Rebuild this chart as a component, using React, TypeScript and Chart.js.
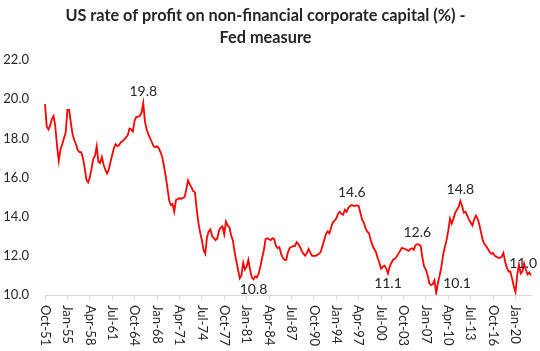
import React, { useEffect, useRef } from "react";
import { Chart, registerables } from "chart.js";

Chart.register(...registerables);

// Quarterly rate of profit (%), starting Oct-51
const RATE: number[] = [
  19.75, 18.6, 18.45, 18.65, 19.0, 19.15, 18.6, 17.6, 16.85, 17.45,
  17.7, 18.0, 18.3, 19.45, 19.45, 18.8, 18.2, 17.9, 17.7, 17.4,
  17.3, 17.3, 17.0, 16.5, 15.9, 15.75, 16.0, 16.45, 16.95, 17.1,
  17.6, 16.8, 16.75, 17.05, 16.65, 16.4, 16.2, 16.4, 16.8, 17.15,
  17.5, 17.7, 17.6, 17.65, 17.8, 17.85, 17.95, 18.05, 18.15, 18.5,
  18.45, 18.35, 18.9, 19.1, 19.1, 19.15, 19.3, 19.8, 18.85, 18.45,
  18.2, 18.0, 17.8, 17.6, 17.55, 17.6, 17.5, 17.3, 17.05, 16.6,
  16.1, 15.5, 14.85, 14.6, 14.65, 14.25, 14.85, 14.9, 14.95, 14.9,
  14.95, 15.0, 15.4, 15.85, 15.65, 15.5, 15.3, 15.25, 14.4, 13.7,
  13.2, 12.8, 12.3, 12.1, 12.95, 13.25, 13.35, 13.0, 12.9, 12.8,
  12.9, 13.3, 13.45, 13.5, 13.1, 13.75, 13.55, 13.45, 13.05, 12.8,
  12.2, 11.75, 11.3, 10.85, 11.0, 11.65, 11.3, 11.45, 11.8, 11.3,
  10.9, 10.8, 10.95, 10.9, 11.1, 11.45, 11.9, 12.3, 12.85, 12.9,
  12.85, 12.8, 12.9, 12.85, 12.5, 12.4, 12.45, 12.1, 11.9, 11.8,
  11.8, 12.2, 12.4, 12.45, 12.5, 12.5, 12.7, 12.6, 12.45, 12.25,
  12.1, 12.0, 12.15, 12.35, 12.15, 12.0, 12.0, 12.0, 12.05, 12.1,
  12.2, 12.5, 12.8, 13.1, 13.25, 13.15, 13.45, 13.7, 13.8, 13.9,
  14.15, 14.25, 14.15, 14.1, 14.35, 14.25, 14.45, 14.55, 14.6, 14.55,
  14.55, 14.58, 14.55, 14.2, 13.85, 13.7, 13.4, 13.25, 13.15, 12.8,
  12.55, 12.35, 12.2, 11.9, 11.65, 11.35, 11.45, 11.5, 11.35, 11.1,
  11.45, 11.65, 11.8, 11.85, 11.95, 12.1, 12.25, 12.4, 12.38, 12.35,
  12.3, 12.25, 12.35, 12.38, 12.3, 12.55, 12.6, 12.58, 12.5, 11.9,
  11.45, 11.3, 11.0, 10.6, 10.5, 10.55, 10.75, 10.1, 10.6, 11.0,
  11.45, 12.05, 12.45, 12.8, 13.3, 13.9, 13.65, 13.9, 14.2, 14.35,
  14.5, 14.8, 14.55, 14.2, 14.25, 14.05, 13.85, 13.7, 13.55, 13.85,
  14.05, 13.9, 13.6, 13.2, 12.8, 12.6, 12.5, 12.35, 12.2, 12.1,
  12.15, 12.0, 11.95, 11.9, 11.9, 11.95, 12.15, 11.7, 11.4, 11.2,
  11.2, 10.85, 10.45, 10.15, 11.0, 11.55, 11.1, 11.2, 11.6, 11.3,
  11.05, 11.15, 11.0,
];

const QUARTER_MONTHS = ["Jan", "Apr", "Jul", "Oct"];
const FIRST_YEAR = 1951;
const FIRST_QUARTER = 3; // Oct
const LABEL_EVERY = 13;

const CATEGORIES: string[] = RATE.map((_, i) => {
  const q = FIRST_QUARTER + i;
  const y = FIRST_YEAR + Math.floor(q / 4);
  return QUARTER_MONTHS[q % 4] + "-" + String(y % 100).padStart(2, "0");
});

const Y_MIN = 10;
const Y_MAX = 22;
const Y_STEP = 2;

// Annotated points: index and placement
const LABEL_INDEX: number[] = [57, 121, 178, 199, 216, 227, 241, 282];
const LABEL_PLACE: string[] = ["above", "below", "above", "below", "above", "right", "above", "above"];

const TITLE_LINES = ["US rate of profit on non-financial corporate capital (%) -", "Fed measure"];

const FONT = "Lato, 'Open Sans', sans-serif";
const TEXT_COLOR = "#262626";

const overlayPlugin = {
  id: "overlay",
  afterDraw(chart: any) {
    const ctx = chart.ctx;
    const xs = chart.scales.x;
    ctx.save();
    // vertical x labels (top-to-bottom)
    ctx.font = `13px ${FONT}`;
    ctx.fillStyle = TEXT_COLOR;
    ctx.textAlign = "left";
    ctx.textBaseline = "middle";
    xs.ticks.forEach((t: any, k: number) => {
      const x = xs.getPixelForTick(k);
      const y = xs.top + 10;
      ctx.save();
      ctx.translate(x, y);
      ctx.rotate(Math.PI / 2);
      ctx.fillText(chart.data.labels[t.value], 0, 0);
      ctx.restore();
    });
    // data labels
    const meta = chart.getDatasetMeta(0);
    ctx.font = `14px ${FONT}`;
    LABEL_INDEX.forEach((idx, k) => {
      const pt = meta.data[idx];
      if (!pt) return;
      const txt = (chart.data.datasets[0].data[idx] as number).toFixed(1);
      const w = ctx.measureText(txt).width;
      const place = LABEL_PLACE[k];
      let x = pt.x;
      let y = pt.y;
      if (place === "above") {
        y -= 12;
      } else if (place === "below") {
        y += 10;
      } else {
        x += 7 + w / 2;
        y -= 10;
      }
      const maxRight = chart.width - 3;
      if (x + w / 2 > maxRight) x = maxRight - w / 2;
      ctx.textAlign = "center";
      ctx.fillText(txt, x, y);
    });
    ctx.restore();
  },
};

export default function App() {
  const ref = useRef<HTMLCanvasElement | null>(null);
  useEffect(() => {
    document.body.style.margin = "0";
    if (!ref.current) return;
    const chart = new Chart(ref.current, {
      type: "line",
      data: {
        labels: CATEGORIES,
        datasets: [
          {
            data: RATE,
            borderColor: "#ff0000",
            borderWidth: 1.8,
            pointRadius: 0,
            tension: 0,
            fill: false,
          },
        ],
      },
      options: {
        animation: false,
        responsive: true,
        maintainAspectRatio: false,
        layout: { padding: { left: 0, right: 9, top: 0, bottom: 0 } },
        plugins: {
          legend: { display: false },
          tooltip: { enabled: false },
          title: {
            display: true,
            text: TITLE_LINES,
            color: TEXT_COLOR,
            font: { family: FONT, size: 16.3, weight: "bold", lineHeight: 1.35 },
            padding: { top: 5, bottom: 11 },
          },
        },
        scales: {
          x: {
            type: "category",
            offset: false,
            afterBuildTicks: (scale: any) => {
              scale.ticks = scale.ticks.filter((t: any) => t.value % LABEL_EVERY === 0);
            },
            afterFit: (scale: any) => {
              scale.height = 56;
            },
            ticks: { display: false, autoSkip: false },
            grid: {
              display: true,
              drawOnChartArea: false,
              drawTicks: true,
              tickLength: 5,
              color: "#d9d9d9",
            },
            border: { display: true, color: "#d9d9d9" },
          },
          y: {
            min: Y_MIN,
            max: Y_MAX,
            afterFit: (scale: any) => {
              scale.width = 45;
            },
            ticks: {
              stepSize: Y_STEP,
              padding: 8,
              color: TEXT_COLOR,
              font: { family: FONT, size: 13 },
              callback: (v: any) => Number(v).toFixed(1),
            },
            grid: { display: false },
            border: { display: false },
          },
        },
      },
      plugins: [overlayPlugin],
    });
    return () => chart.destroy();
  }, []);
  return (
    <div style={{ width: 540, height: 351, position: "relative", background: "#fff" }}>
      <canvas ref={ref} />
    </div>
  );
}
